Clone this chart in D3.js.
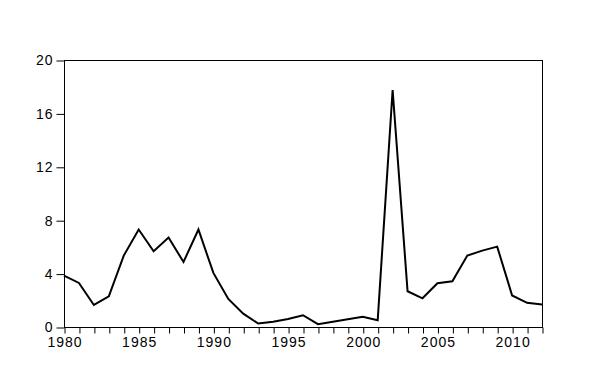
<!DOCTYPE html>
<html>
<head>
<meta charset="utf-8">
<script src="https://cdn.jsdelivr.net/npm/d3@7"></script>
<style>
  body { margin: 0; background: #fff; }
  text { font-family: "Liberation Sans", Arial, sans-serif; font-size: 14px; letter-spacing: 1px; fill: #000; }
</style>
</head>
<body>
<div id="chart"></div>
<script>
// yearly series, 1980-2012
let years = d3.range(1980, 2013);
let values = [3.85, 3.3, 1.65, 2.3, 5.35, 7.3, 5.67, 6.7, 4.87, 7.3,
  4.05, 2.1, 1.0, 0.26, 0.39, 0.6, 0.88, 0.21, 0.39, 0.58,
  0.76, 0.51, 17.75, 2.68, 2.15, 3.28, 3.43, 5.35, 5.72, 6.02,
  2.36, 1.81, 1.68];
let yTicks = [0, 4, 8, 12, 16, 20];
let xLabels = [1980, 1985, 1990, 1995, 2000, 2005, 2010];

let width = 594, height = 374;
let margin = { top: 60, right: 52, bottom: 47, left: 64 };

let svg = d3.select("#chart").append("svg")
  .attr("width", width)
  .attr("height", height);

let x = d3.scaleLinear()
  .domain([1980, 2012])
  .range([margin.left, width - margin.right]);

let y = d3.scaleLinear()
  .domain([0, 20])
  .range([height - margin.bottom, margin.top]);

// frame
svg.append("rect")
  .attr("x", margin.left + 0.5)
  .attr("y", margin.top + 0.5)
  .attr("width", width - margin.right - margin.left)
  .attr("height", height - margin.bottom - margin.top)
  .attr("fill", "none")
  .attr("stroke", "#000")
  .attr("stroke-width", 1);

// y axis
let yAxis = svg.append("g")
  .attr("transform", `translate(${margin.left + 0.5},0.5)`)
  .call(d3.axisLeft(y).tickValues(yTicks).tickSize(8).tickPadding(3).tickSizeOuter(0));
yAxis.select(".domain").remove();
yAxis.selectAll("text").attr("font-size", null).attr("font-family", null);

// x axis, ticks every year, labels every five
let xAxis = svg.append("g")
  .attr("transform", `translate(0.5,${height - margin.bottom + 0.5})`)
  .call(d3.axisBottom(x).tickValues(years).tickSize(6).tickPadding(4).tickSizeOuter(0)
    .tickFormat(d => xLabels.includes(d) ? d : ""));
xAxis.select(".domain").remove();
xAxis.selectAll("text").attr("font-size", null).attr("font-family", null);

// series line
let line = d3.line()
  .x((d, i) => x(years[i]))
  .y(d => y(d));

svg.append("path")
  .datum(values)
  .attr("d", line)
  .attr("fill", "none")
  .attr("stroke", "#000")
  .attr("stroke-width", 2)
  .attr("stroke-linejoin", "miter");
</script>
</body>
</html>
